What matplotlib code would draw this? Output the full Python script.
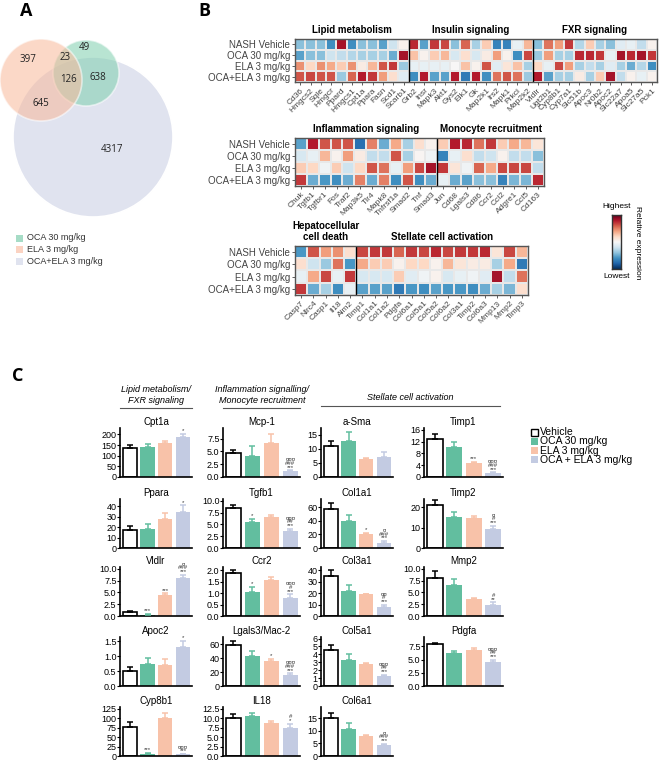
import numpy as np
import matplotlib
matplotlib.use('Agg')
import matplotlib.pyplot as plt
from matplotlib.patches import Circle, Rectangle

plt.rcParams['font.family'] = ['Liberation Sans', 'DejaVu Sans']

# ---------------- DATA ----------------
groups = ['Vehicle', 'OCA 30 mg/kg', 'ELA 3 mg/kg', 'OCA + ELA 3 mg/kg']
venn_groups = ['OCA 30 mg/kg', 'ELA 3 mg/kg', 'OCA+ELA 3 mg/kg']
venn_region_names = ['ELA only', 'OCA&ELA', 'OCA only', 'all three', 'OCA&combo', 'ELA&combo', 'combo only']
venn_counts = [397, 23, 49, 126, 638, 645, 4317]

heat_rows = ['NASH Vehicle', 'OCA 30 mg/kg', 'ELA 3 mg/kg', 'OCA+ELA 3 mg/kg']

h1_groups = ['Lipid metabolism', 'Insulin signaling', 'FXR signaling']
h1_sizes = [11, 12, 12]
h1_genes = ['Cd36', 'Hmgcs2', 'Sqle', 'Hmgcr', 'Ppard', 'Hmgcs1', 'Cpt1a', 'Ppara', 'Fasn', 'Scd1', 'Scarb1',
            'Grb2', 'Insr', 'Mapk3', 'Akt1', 'Gys2', 'Elk1', 'Gk', 'Map2k1', 'Irs2', 'Mapk1', 'Prkci', 'Map2k2',
            'Vldlr', 'Ugt2b1', 'Cyp8b1', 'Cyp7a1', 'Slc51b', 'Apoc3', 'Nr0b2', 'Apoc2', 'Slc22a7', 'Apoa5', 'Slc27a5', 'Pck1']
h1_values = [
    [-1.0, -1.0, -1.0, -1.5, 2.0, -1.5, -1.0, -1.0, -1.3, -0.5, 0.1,
     1.8, -1.3, 1.7, 1.6, -1.0, 1.4, -0.8, 0.6, -1.6, -1.6, -0.2, 0.8,
     -1.0, 1.3, 1.0, 1.7, -0.7, 0.6, -0.8, -1.0, -0.3, -0.2, -0.6, 0.1],
    [-1.3, -1.0, -1.0, -0.5, -0.6, -0.7, -0.8, -0.8, -0.8, -1.2, 2.0,
     0.7, 0.1, 0.6, 0.8, -0.4, 0.4, -0.4, 0.2, 1.0, 0.1, -1.5, 1.6,
     -0.9, 1.0, -0.8, -0.8, 1.8, 1.8, 1.7, -0.2, 2.0, 1.8, 2.0, 1.7],
    [1.1, 0.5, 1.1, 0.9, 0.6, 1.1, 0.2, 0.8, 1.5, 1.7, -0.9,
     -0.2, -0.2, -0.2, -0.2, 0.0, 0.7, 0.1, 1.5, -0.3, 0.3, 0.7, -0.8,
     0.5, -0.2, 1.6, 1.0, -0.8, -0.6, -0.8, -0.3, -0.8, -1.2, -0.7, -1.5],
    [1.5, 1.6, 1.5, 1.5, -0.9, 1.4, 1.9, 1.7, 1.0, 0.4, -0.3,
     -1.5, 1.9, -1.3, -1.3, 1.9, -1.7, 1.9, -1.5, 1.3, 1.5, 1.3, -0.9,
     1.9, -1.3, -0.8, -0.8, 0.2, -0.8, 0.6, 2.0, -0.6, 0.1, -0.2, 0.1],
]

h2_groups = ['Inflammation signaling', 'Monocyte recruitment']
h2_sizes = [12, 9]
h2_genes = ['Chuk', 'Tgfb1', 'Tgfbr1', 'Fos', 'Traf2', 'Map3k5', 'Tlr4', 'Mapk8', 'Tnfrsf1a', 'Smad2', 'Tnf', 'Smad3',
            'Jun', 'Cd68', 'Lgals3', 'Cd86', 'Ccr2', 'Ccl2', 'Adgre1', 'Ccl5', 'Cd163']
h2_values = [
    [-1.3, 1.9, 1.5, 1.5, 1.5, -1.8, 1.2, -1.2, 0.9, -0.8, 0.4, 0.1,
     0.6, 1.9, 1.8, 1.3, 1.7, 0.6, 0.9, 0.8, 0.3],
    [-0.4, -0.2, 0.8, 0.1, 1.0, 0.2, -0.6, -0.6, 1.5, -0.8, 0.05, -0.1,
     -1.6, -0.2, 0.4, -0.6, -0.5, 0.1, -0.6, -0.6, -1.0],
    [0.6, 0.5, -0.1, 0.6, -0.5, 0.5, 1.5, 1.3, -0.2, 1.0, 1.6, 2.0,
     1.7, 0.3, -0.1, 1.4, 0.9, 1.6, 1.6, 1.6, -0.6],
    [1.7, -1.2, -1.4, -1.5, -1.2, 1.2, -1.2, 1.2, -1.5, 1.5, -1.5, -1.2,
     -0.2, -1.2, -1.3, -1.0, -1.0, -1.6, -1.1, -1.1, 1.8],
]

h3_groups = ['Hepatocellular\ncell death', 'Stellate cell activation']
h3_sizes = [5, 14]
h3_genes = ['Casp7', 'Nlrc4', 'Casp1', 'Il18', 'Aim2',
            'Timp1', 'Col1a1', 'Col1a2', 'Pdgfa', 'Col6a1', 'Col5a1', 'Col5a2', 'Col6a2', 'Col3a1', 'Timp2',
            'Col6a3', 'Mmp13', 'Mmp2', 'Timp3']
h3_values = [
    [-1.4, 1.5, 1.0, 1.1, 0.4,
     1.6, 1.7, 1.7, 1.4, 1.7, 1.6, 1.8, 1.6, 1.7, 1.7, 1.8, 0.3, 1.6, 0.8],
    [0.4, -0.5, -0.9, 1.3, -1.4,
     0.9, 0.6, 0.6, 0.1, 0.5, 0.5, 0.1, 0.8, 0.3, 0.2, 0.2, -0.8, 0.9, -1.7],
    [-0.2, 0.9, 1.6, -0.2, 1.7,
     -0.4, -0.4, -0.4, 0.6, -0.3, -0.1, 0.1, -0.4, -0.2, -0.1, -0.3, 2.0, -0.6, 1.3],
    [1.7, -1.2, -0.8, -1.5, -0.2,
     -1.3, -1.3, -1.3, -1.7, -1.4, -1.5, -1.3, -1.4, -1.4, -1.5, -1.2, -0.8, -1.1, 0.4],
]

bar_headers = ['Lipid metabolism/\nFXR signaling', 'Inflammation signalling/\nMonocyte recruitment',
               'Stellate cell activation']
bar_columns = [
    ['Cpt1a', 'Ppara', 'Vldlr', 'Apoc2', 'Cyp8b1'],
    ['Mcp-1', 'Tgfb1', 'Ccr2', 'Lgals3/Mac-2', 'IL18'],
    ['a-Sma', 'Col1a1', 'Col3a1', 'Col5a1', 'Col6a1'],
    ['Timp1', 'Timp2', 'Mmp2', 'Pdgfa'],
]
bar_means = {
    'Cpt1a': [138, 142, 158, 190], 'Ppara': [17, 18, 28, 35], 'Vldlr': [0.9, 0.3, 4.5, 8.0],
    'Apoc2': [0.5, 0.75, 0.7, 1.32], 'Cyp8b1': [78, 6, 102, 4],
    'Mcp-1': [4.7, 4.2, 6.6, 1.1], 'Tgfb1': [8.5, 5.6, 6.6, 3.7], 'Ccr2': [1.88, 1.07, 1.6, 0.8],
    'Lgals3/Mac-2': [59, 43, 36, 16], 'IL18': [10.0, 10.4, 8.6, 7.3],
    'a-Sma': [11.2, 12.7, 6.6, 7.0], 'Col1a1': [57, 39, 21, 8], 'Col3a1': [35, 22, 19, 8],
    'Col5a1': [4.6, 3.3, 2.8, 1.3], 'Col6a1': [15, 10.8, 8.0, 4.2],
    'Timp1': [13, 10, 4.7, 1.3], 'Timp2': [21, 15.3, 14.5, 9.2], 'Mmp2': [8.1, 6.5, 3.6, 2.4],
    'Pdgfa': [7.9, 6.3, 6.8, 4.5],
}
bar_errs = {
    'Cpt1a': [10, 15, 10, 12], 'Ppara': [4, 5, 6, 6], 'Vldlr': [0.1, 0.1, 0.3, 0.8],
    'Apoc2': [0.15, 0.2, 0.2, 0.2], 'Cyp8b1': [12, 2, 13, 2],
    'Mcp-1': [0.6, 1.8, 1.8, 0.2], 'Tgfb1': [0.6, 0.6, 0.5, 0.3], 'Ccr2': [0.12, 0.2, 0.12, 0.15],
    'Lgals3/Mac-2': [5, 7, 3, 2], 'IL18': [1.0, 0.9, 0.7, 1.2],
    'a-Sma': [1.6, 3.3, 0.3, 2.0], 'Col1a1': [9, 10, 1, 2], 'Col3a1': [5, 5, 0.5, 2],
    'Col5a1': [0.6, 0.8, 0.1, 0.15], 'Col6a1': [2, 2.3, 0.2, 0.5],
    'Timp1': [1.5, 1.7, 0.5, 0.3], 'Timp2': [2.5, 2.5, 1.0, 1.5], 'Mmp2': [1.4, 1.4, 0.3, 0.5],
    'Pdgfa': [0.3, 0.4, 0.4, 0.5],
}
bar_sig = {
    'Cpt1a': ['', '', '', '*'], 'Ppara': ['', '', '', '*'], 'Vldlr': ['', '***', '***', '¤\n###\n***'],
    'Apoc2': ['', '', '', '*'], 'Cyp8b1': ['', '***', '', '¤¤¤\n***'],
    'Mcp-1': ['', '', '', '¤¤¤\n###\n***'], 'Tgfb1': ['', '*', '', '¤¤¤\n##\n***'],
    'Ccr2': ['', '*', '', '¤¤¤\n#\n***'], 'Lgals3/Mac-2': ['', '', '*', '¤¤¤\n###\n***'],
    'IL18': ['', '', '', '#\n*'],
    'a-Sma': ['', '', '', ''], 'Col1a1': ['', '', '*', '¤\n###\n***'], 'Col3a1': ['', '', '', '¤¤\n#\n***'],
    'Col5a1': ['', '', '', '¤¤¤\n##\n***'], 'Col6a1': ['', '', '', '¤\n###\n***'],
    'Timp1': ['', '', '***', '¤¤¤\n###\n***'], 'Timp2': ['', '', '', '¤\n#\n***'],
    'Mmp2': ['', '', '', '#\n**'], 'Pdgfa': ['', '', '', '¤¤¤\n##\n***'],
}
bar_ticks = {
    'Cpt1a': [0, 50, 100, 150, 200], 'Ppara': [0, 10, 20, 30, 40], 'Vldlr': [0, 2.5, 5, 7.5, 10],
    'Apoc2': [0, 0.5, 1.0, 1.5], 'Cyp8b1': [0, 25, 50, 75, 100, 125],
    'Mcp-1': [0, 2.5, 5, 7.5], 'Tgfb1': [0, 2.5, 5, 7.5, 10], 'Ccr2': [0, 0.5, 1.0, 1.5, 2.0],
    'Lgals3/Mac-2': [0, 20, 40, 60], 'IL18': [0, 2.5, 5, 7.5, 10, 12.5],
    'a-Sma': [0, 5, 10, 15], 'Col1a1': [0, 20, 40, 60], 'Col3a1': [0, 10, 20, 30, 40],
    'Col5a1': [0, 1, 2, 3, 4, 5, 6], 'Col6a1': [0, 5, 10, 15],
    'Timp1': [0, 4, 8, 12, 16], 'Timp2': [0, 10, 20], 'Mmp2': [0, 2.5, 5, 7.5, 10],
    'Pdgfa': [0, 2.5, 5, 7.5],
}
bar_ytop = {
    'Cpt1a': 230, 'Ppara': 47, 'Vldlr': 10.4, 'Apoc2': 1.65, 'Cyp8b1': 130,
    'Mcp-1': 9.6, 'Tgfb1': 10.4, 'Ccr2': 2.15, 'Lgals3/Mac-2': 70, 'IL18': 12.9,
    'a-Sma': 17.5, 'Col1a1': 72, 'Col3a1': 43, 'Col5a1': 6.2, 'Col6a1': 19.5,
    'Timp1': 16.6, 'Timp2': 24, 'Mmp2': 10.4, 'Pdgfa': 9.3,
}

# ---------------- STYLE ----------------
W, H = 660, 760
fig = plt.figure(figsize=(6.6, 7.6), dpi=100)

def rect(x0, y0, x1, y1):
    return [x0 / W, 1 - y1 / H, (x1 - x0) / W, (y1 - y0) / H]

bg = fig.add_axes([0, 0, 1, 1])
bg.set_xlim(0, W)
bg.set_ylim(H, 0)
bg.axis('off')

lab_kw = dict(fontsize=13, fontweight='bold', family=['Open Sans', 'DejaVu Sans'])
bg.text(26, 11, 'A', ha='center', va='center', **lab_kw)
bg.text(204, 11, 'B', ha='center', va='center', **lab_kw)
bg.text(18, 376, 'C', ha='center', va='center', **lab_kw)

# ---------------- PANEL A: Venn ----------------
venn_face = ['#7fcfae', '#f9b99a', '#e0e3ef']
circ_combo = Circle((93, 137), 80, facecolor=venn_face[2], edgecolor='white', lw=1.2, zorder=1)
circ_oca = Circle((86, 73), 33, facecolor=venn_face[0], alpha=0.55, edgecolor='white', lw=1.2, zorder=2)
circ_ela = Circle((41, 80), 41, facecolor=venn_face[1], alpha=0.55, edgecolor='white', lw=1.2, zorder=3)
for c in (circ_combo, circ_oca, circ_ela):
    bg.add_patch(c)
venn_pos = [(28, 60), (65, 57), (84, 48), (68, 80), (98, 78), (41, 104), (112, 150)]
for (x, y), n in zip(venn_pos, venn_counts):
    bg.text(x, y, str(n), ha='center', va='center', fontsize=7, color='#222222',
            family=['Open Sans', 'DejaVu Sans'], zorder=5)
leg_face = ['#a6dcc6', '#fbd3c2', '#e0e3ef']
for i, (name, col) in enumerate(zip(venn_groups, leg_face)):
    y = 238 + i * 11.5
    bg.add_patch(Rectangle((16, y - 3.5), 6.5, 7, facecolor=col, edgecolor='none'))
    bg.text(27, y, name, ha='left', va='center', fontsize=6.5, color='#333333')

# ---------------- PANEL B: heatmaps ----------------
cmap = plt.get_cmap('RdBu_r')
vmin, vmax = -2.4, 2.4

def heatmap(box, values, genes, grp_names, grp_sizes):
    ax = fig.add_axes(rect(*box))
    arr = np.array(values)
    ax.pcolormesh(arr, cmap=cmap, vmin=vmin, vmax=vmax, edgecolors='#e8e8e8', linewidth=0.2)
    ax.set_xlim(0, arr.shape[1])
    ax.set_ylim(arr.shape[0], 0)
    ax.set_yticks(np.arange(arr.shape[0]) + 0.5)
    ax.set_yticklabels(heat_rows, fontsize=7, color='#444444')
    ax.set_xticks(np.arange(arr.shape[1]) + 0.5)
    ax.set_xticklabels(genes, rotation=45, ha='right', rotation_mode='anchor', fontsize=6, color='#444444')
    ax.tick_params(length=2, width=0.6, pad=1.5, colors='#444444')
    for s in ax.spines.values():
        s.set_color('#555555')
        s.set_linewidth(1.0)
    edge = 0
    for g, n in zip(grp_names, grp_sizes):
        if edge > 0:
            ax.axvline(edge, color='black', lw=1.0)
        ax.text(edge + n / 2, -0.35, g, ha='center', va='bottom', fontsize=7, fontweight='bold',
                transform=ax.transData, linespacing=1.1)
        edge += n
    return ax

heatmap((295, 39, 657, 82), h1_values, h1_genes, h1_groups, h1_sizes)
heatmap((295, 138, 544, 186), h2_values, h2_genes, h2_groups, h2_sizes)
heatmap((295, 246, 528, 295), h3_values, h3_genes, h3_groups, h3_sizes)

# colorbar
cax = fig.add_axes(rect(612, 215, 621, 269))
grad = np.linspace(vmax, vmin, 100).reshape(-1, 1)
cax.imshow(grad, cmap=cmap, vmin=vmin, vmax=vmax, aspect='auto')
cax.set_xticks([])
cax.set_yticks([])
for s in cax.spines.values():
    s.set_linewidth(1.0)
    s.set_color('#333333')
bg.text(617, 210, 'Highest', ha='center', va='bottom', fontsize=6)
bg.text(617, 273, 'Lowest', ha='center', va='top', fontsize=6)
bg.text(634, 243, 'Relative expression', ha='left', va='center', rotation=-90, fontsize=6,
        rotation_mode='default')

# ---------------- PANEL C: bar charts ----------------
bar_colors = ['white', '#62be9f', '#f8c2a9', '#c3cbe2']
err_colors = ['black', '#62be9f', '#f8c2a9', '#c3cbe2']
col_x = [(120, 192), (223, 300), (321, 393), (424, 503)]
row_bottom = [477, 548, 616, 686, 756]
ax_h = 49

for ci, genes in enumerate(bar_columns):
    x0, x1 = col_x[ci]
    for ri, gene in enumerate(genes):
        yb = row_bottom[ri]
        ax = fig.add_axes(rect(x0, yb - ax_h, x1, yb))
        means = bar_means[gene]
        errs = bar_errs[gene]
        xs = np.arange(4)
        for i in range(4):
            ax.bar(xs[i], means[i], width=0.8, color=bar_colors[i],
                   edgecolor='black' if i == 0 else 'none', linewidth=1.2 if i == 0 else 0, zorder=2)
            ax.errorbar(xs[i], means[i], yerr=[[0], [errs[i]]], fmt='none', ecolor=err_colors[i],
                        elinewidth=1.1, capsize=2.2, capthick=1.1, zorder=3)
            if bar_sig[gene][i]:
                ax.annotate(bar_sig[gene][i], (xs[i], means[i] + errs[i]), xytext=(0, 0.5),
                            textcoords='offset points', ha='center', va='bottom', fontsize=4.3,
                            linespacing=0.75, color='#333333', zorder=4)
        ax.set_xlim(-0.55, 3.5)
        ax.set_ylim(0, bar_ytop[gene])
        ticks = bar_ticks[gene]
        ax.set_yticks(ticks)
        if any(abs(t - round(t)) > 1e-9 for t in ticks):
            ax.set_yticklabels(['%.1f' % t for t in ticks])
        else:
            ax.set_yticklabels(['%d' % t for t in ticks])
        ax.set_xticks([])
        ax.tick_params(axis='y', labelsize=6.5, length=2, width=0.8, pad=0.5)
        for s in ('top', 'right'):
            ax.spines[s].set_visible(False)
        for s in ('left', 'bottom'):
            ax.spines[s].set_linewidth(1.2)
        ax.patch.set_alpha(0)
        ax.set_title(gene, fontsize=7, pad=2.5)

# group headers
hdr_pos = [(156, 120, 192), (262, 223, 300), (410, 321, 500)]
for (cx, lx0, lx1), txt in zip(hdr_pos, bar_headers):
    if '\n' in txt:
        bg.text(cx, 395, txt, ha='center', va='center', fontsize=6.5, style='italic', linespacing=1.15)
        bg.plot([lx0, lx1], [408, 408], color='#555555', lw=0.8)
    else:
        bg.text(cx, 398, txt, ha='center', va='center', fontsize=6.5, style='italic')
        bg.plot([lx0, lx1], [406, 406], color='#555555', lw=0.8)

# legend
for i, (name, col) in enumerate(zip(groups, bar_colors)):
    y = 432 + i * 9.3
    bg.add_patch(Rectangle((531, y - 3.5), 7, 7, facecolor=col,
                           edgecolor='black' if i == 0 else 'none', lw=1.0))
    bg.text(540, y, name, ha='left', va='center', fontsize=7.5)

fig.savefig('out.png', dpi=100)
